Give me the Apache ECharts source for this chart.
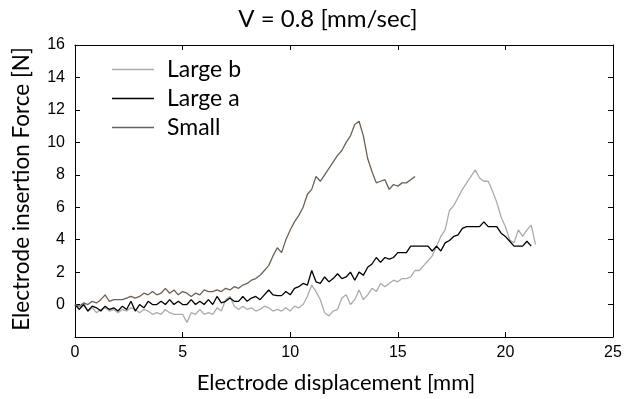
<!DOCTYPE html>
<html><head><meta charset="utf-8">
<script src="https://cdn.jsdelivr.net/npm/echarts@6/dist/echarts.min.js"></script>
<style>html,body{margin:0;padding:0;background:#fff}#c{width:626px;height:399px}</style>
</head><body><div id="c"></div>
<script>
// Electrode displacement [mm] sample positions (0.2 mm step)
const displacement = [0,0.2,0.4,0.6,0.8,1,1.2,1.4,1.6,1.8,2,2.2,2.4,2.6,2.8,3,3.2,3.4,3.6,3.8,4,4.2,4.4,4.6,4.8,5,5.2,5.4,5.6,5.8,6,6.2,6.4,6.6,6.8,7,7.2,7.4,7.6,7.8,8,8.2,8.4,8.6,8.8,9,9.2,9.4,9.6,9.8,10,10.2,10.4,10.6,10.8,11,11.2,11.4,11.6,11.8,12,12.2,12.4,12.6,12.8,13,13.2,13.4,13.6,13.8,14,14.2,14.4,14.6,14.8,15,15.2,15.4,15.6,15.8,16,16.2,16.4,16.6,16.8,17,17.2,17.4,17.6,17.8,18,18.2,18.4,18.6,18.8,19,19.2,19.4,19.6,19.8,20,20.2,20.4,20.6,20.8,21,21.2,21.4];

const seriesNames = ["Large b", "Large a", "Small"];

const largeB = [0.0,-0.3,0.1,-0.4,-0.2,-0.5,-0.3,-0.2,-0.4,-0.3,-0.5,-0.3,-0.4,-0.2,-0.3,-0.5,-0.3,-0.4,-0.6,-0.5,-0.6,-0.3,-0.5,-0.6,-0.6,-0.6,-1.1,-0.5,-0.6,-0.3,-0.6,-0.5,-0.6,-0.2,-0.4,0.3,0.5,-0.1,-0.3,-0.1,-0.3,-0.2,-0.4,-0.3,-0.1,-0.2,-0.4,-0.3,-0.4,-0.2,-0.4,-0.1,-0.2,0.0,0.5,1.2,0.8,0.3,-0.5,-0.7,-0.4,-0.3,0.4,0.6,0.0,0.3,0.9,0.3,0.6,1.0,0.8,1.3,1.1,1.3,1.5,1.4,1.6,1.6,1.7,2.1,2.1,2.4,2.7,3.0,3.6,4.2,4.6,5.8,6.1,6.6,7.1,7.5,7.9,8.3,7.8,7.6,7.6,7.0,6.3,5.4,4.8,4.0,3.8,4.6,4.2,4.6,4.9,3.7];

const largeA = [0.0,-0.3,0.0,-0.4,-0.1,-0.2,-0.4,-0.1,-0.3,-0.2,-0.4,-0.1,-0.3,0.2,-0.4,0.0,-0.2,0.2,0.0,0.0,0.2,0.0,0.3,0.0,0.2,0.0,0.0,0.3,0.0,0.2,0.0,0.3,0.0,0.5,0.1,0.2,0.4,0.2,0.2,0.5,0.2,0.4,0.5,0.3,0.6,0.9,0.6,0.55,0.55,0.8,0.6,1.0,1.1,1.3,1.2,2.1,1.4,1.3,1.7,1.4,1.6,1.9,1.6,1.7,2.0,1.5,2.0,1.8,2.3,2.5,2.9,2.6,2.9,2.8,2.9,3.2,3.2,3.2,3.6,3.6,3.6,3.6,3.6,3.3,3.6,3.3,3.8,3.95,4.2,4.3,4.7,4.8,4.8,4.8,4.8,5.1,4.8,4.8,4.8,4.4,4.2,3.9,3.6,3.6,3.6,3.9,3.6];

const small = [0.0,-0.1,0.1,0.0,0.2,0.1,0.3,0.6,0.2,0.3,0.3,0.3,0.4,0.5,0.4,0.5,0.7,0.6,0.8,0.6,0.7,1.0,0.7,0.9,0.6,0.8,0.7,0.5,0.7,0.6,0.9,0.8,0.8,0.9,0.8,1.0,0.9,1.1,1.0,1.2,1.3,1.5,1.6,1.8,2.1,2.4,3.0,3.5,3.2,4.0,4.6,5.1,5.5,6.0,6.8,7.1,7.9,7.6,8.0,8.4,8.8,9.2,9.5,10.0,10.4,11.1,11.3,10.4,9.0,8.2,7.5,7.6,7.7,7.1,7.4,7.3,7.5,7.5,7.7,7.9];

const xTicks = [0, 5, 10, 15, 20, 25];
const yTicks = [0, 2, 4, 6, 8, 10, 12, 14, 16];

const colors = ["#ababab", "#000000", "#6e6054"];
const pairs = arr => arr.map((v, i) => [displacement[i], v]);
const tickFont = {fontFamily: "Liberation Sans", fontSize: 16, color: "#000"};
const nameFont = "Lato";

const chart = echarts.init(document.getElementById('c'), null, {renderer: 'canvas'});
const axisLine = {show: true, onZero: false, lineStyle: {color: '#000', width: 1}};
const tick = {show: true, inside: true, length: 5, lineStyle: {color: '#000'}};
chart.setOption({
  animation: false,
  backgroundColor: '#fff',
  grid: {left: 75, right: 13, top: 45, bottom: 62, containLabel: false},
  legend: {
    orient: 'vertical', left: 107, top: 53, itemGap: 6,
    itemWidth: 42, itemHeight: 1.4, icon: 'rect',
    data: seriesNames,
    textStyle: {fontFamily: nameFont, fontSize: 23, color: '#000', padding: [0, 0, 0, 8]}
  },
  xAxis: [{
    type: 'value', min: 0, max: 25, interval: 5, position: 'bottom',
    axisLine, axisTick: tick, splitLine: {show: false},
    axisLabel: Object.assign({margin: 8, formatter: v => xTicks.includes(v) ? String(v) : ''}, tickFont)
  }, {
    type: 'value', min: 0, max: 25, interval: 5, position: 'top',
    axisLine, axisTick: tick, splitLine: {show: false}, axisLabel: {show: false}
  }],
  yAxis: [{
    type: 'value', min: -2, max: 16, interval: 2, position: 'left',
    axisLine, axisTick: tick, splitLine: {show: false},
    axisLabel: Object.assign({margin: 10, formatter: v => yTicks.includes(v) ? String(v) : ''}, tickFont)
  }, {
    type: 'value', min: -2, max: 16, interval: 2, position: 'right',
    axisLine, axisTick: tick, splitLine: {show: false}, axisLabel: {show: false}
  }],
  graphic: [
    {type: 'text', x: 328, y: 19, style: {text: 'V = 0.8 [mm/sec]', font: '24px ' + nameFont, fill: '#000', align: 'center', verticalAlign: 'middle'}},
    {type: 'text', x: 336, y: 383, style: {text: 'Electrode displacement [mm]', font: '22px ' + nameFont, fill: '#000', align: 'center', verticalAlign: 'middle'}},
    {type: 'text', x: 22, y: 189, rotation: Math.PI / 2, style: {text: 'Electrode insertion Force [N]', font: '22.5px ' + nameFont, fill: '#000', align: 'center', verticalAlign: 'middle'}}
  ],
  series: [
    {name: seriesNames[0], type: 'line', data: pairs(largeB), showSymbol: false, symbol: 'none', color: colors[0], lineStyle: {width: 1.3, color: colors[0]}, z: 2},
    {name: seriesNames[1], type: 'line', data: pairs(largeA), showSymbol: false, symbol: 'none', color: colors[1], lineStyle: {width: 1.3, color: colors[1]}, z: 3},
    {name: seriesNames[2], type: 'line', data: pairs(small), showSymbol: false, symbol: 'none', color: colors[2], lineStyle: {width: 1.3, color: colors[2]}, z: 4}
  ]
});
</script>
</body></html>
